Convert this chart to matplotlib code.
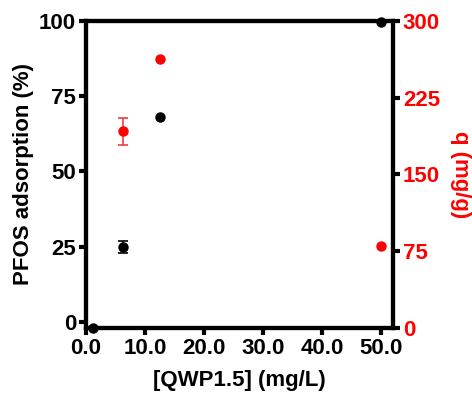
import matplotlib
matplotlib.use("Agg")
import matplotlib.pyplot as plt

plt.rcParams['font.family'] = ['Liberation Sans', 'DejaVu Sans']
plt.rcParams['font.weight'] = 'bold'

# data
conc = [1.25, 6.25, 12.5, 50.0]
adsorption = [-2.0, 25.0, 68.0, 99.5]
adsorption_err = [0.0, 2.0, 0.0, 0.0]
conc_q = [6.25, 12.5, 50.0]
q_vals = [192.0, 263.0, 80.0]
q_err = [13.0, 0.0, 0.0]

x_ticks = [0, 10, 20, 30, 40, 50]
x_tick_labels = ['0.0', '10.0', '20.0', '30.0', '40.0', '50.0']
y_ticks = [0, 25, 50, 75, 100]
q_ticks = [0, 75, 150, 225, 300]

fig = plt.figure(figsize=(4.72, 3.93), dpi=100)
ax = fig.add_axes([0.182, 0.165, 0.651, 0.782])
ax2 = ax.twinx()


def with_err(xs, ys, es):
    sel = [(x, y, e) for x, y, e in zip(xs, ys, es) if e > 0]
    return [s[0] for s in sel], [s[1] for s in sel], [s[2] for s in sel]


ex, ey, ee = with_err(conc, adsorption, adsorption_err)
ax.errorbar(ex, ey, yerr=ee, fmt='none', ecolor='black',
            capsize=3.3, elinewidth=1.2, capthick=1.2, clip_on=False, zorder=4)
ax.plot(conc, adsorption, 'o', color='black', ms=6.5, clip_on=False, zorder=5)

ex, ey, ee = with_err(conc_q, q_vals, q_err)
ax2.errorbar(ex, ey, yerr=ee, fmt='none', ecolor='#f03c3c',
             capsize=3.3, elinewidth=1.2, capthick=1.2, clip_on=False, zorder=4)
ax2.plot(conc_q, q_vals, 'o', color='#ff0000', ms=6.5, clip_on=False, zorder=5)

ax.set_xlim(0, 52)
ax.set_ylim(-2, 100)
ax2.set_ylim(0, 300)
ax.set_xticks(x_ticks)
ax.set_xticklabels(x_tick_labels)
ax.set_yticks(y_ticks)
ax2.set_yticks(q_ticks)

for a in (ax, ax2):
    for s in a.spines.values():
        s.set_linewidth(3)
        s.set_color('black')

ax.tick_params(axis='both', direction='out', length=5, width=3, labelsize=16, pad=2)
ax2.tick_params(axis='y', direction='out', length=5, width=3, labelsize=16,
                labelcolor='#ff0000', pad=2)
for lab in ax.get_xticklabels() + ax.get_yticklabels() + ax2.get_yticklabels():
    lab.set_fontweight('bold')

ax.set_xlabel('[QWP1.5] (mg/L)', fontsize=16, fontweight='bold', labelpad=8)
ax.set_ylabel('PFOS adsorption (%)', fontsize=16, fontweight='bold', labelpad=4)
ax2.set_ylabel('q (mg/g)', fontsize=16, fontweight='bold', color='#ff0000',
               rotation=270, labelpad=22)

fig.savefig('out.png', dpi=100)
